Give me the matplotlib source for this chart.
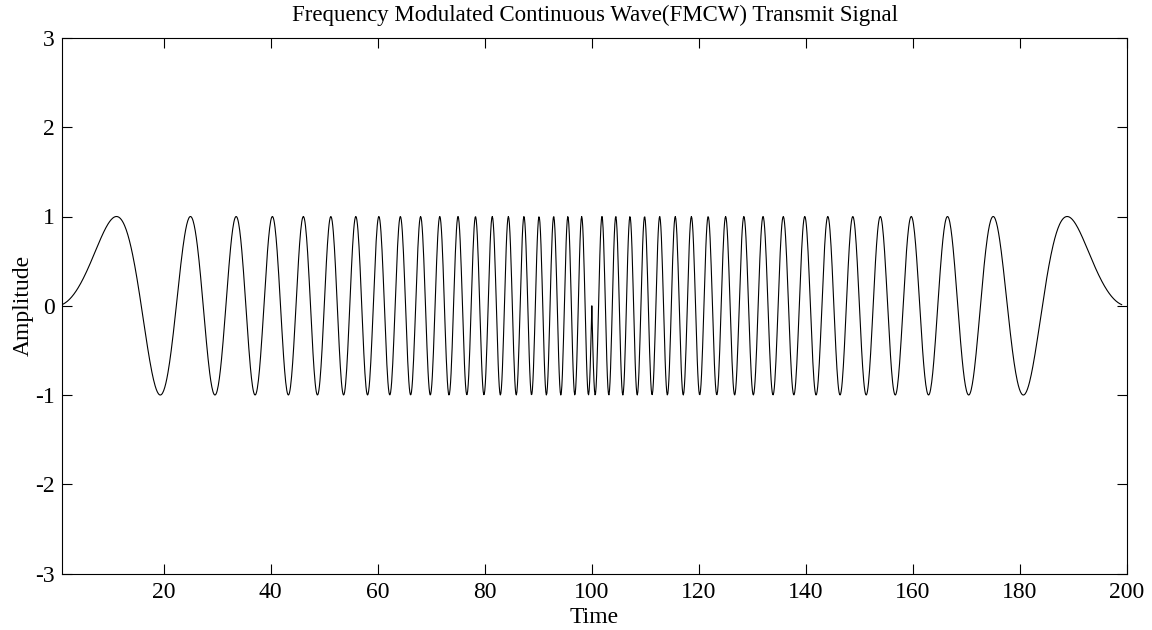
import numpy as np
import matplotlib
matplotlib.use("Agg")
import matplotlib.pyplot as plt

plt.rcParams['font.family'] = ['Liberation Serif', 'DejaVu Serif']
plt.rcParams['axes.unicode_minus'] = False

# chirp parameters (peaks at ~11.2, 25, 33.5 ... 98.1)
t_start = 1.0
t_mid = 100.0
t_end = 200.0
chirp_rate = 0.002      # f = chirp_rate * t, phase = 2*pi*f*t
dt = 0.1

x_ticks = [20, 40, 60, 80, 100, 120, 140, 160, 180, 200]
y_ticks = [-3, -2, -1, 0, 1, 2, 3]

title = "Frequency Modulated Continuous Wave(FMCW) Transmit Signal"
xlab = "Time"
ylab = "Amplitude"

# up chirp then mirrored down chirp
t_up = np.arange(t_start, t_mid + dt / 2, dt)
y_up = np.sin(2 * np.pi * chirp_rate * t_up * t_up)
t_dn = t_end - t_up[::-1]
y_dn = y_up[::-1]
t = np.concatenate([t_up, t_dn])
y = np.concatenate([y_up, y_dn])

fig = plt.figure(figsize=(11.52, 6.3), dpi=100)
ax = fig.add_axes([62 / 1152, 1 - 573.5 / 630, (1127 - 62) / 1152, (573.5 - 38) / 630])
ax.plot(t, y, color='black', linewidth=0.8)

ax.set_xlim(t_start, t_end)
ax.set_ylim(-3, 3)
ax.set_xticks(x_ticks)
ax.set_yticks(y_ticks)
ax.tick_params(direction='in', length=7, width=0.8, top=True, right=True,
               labelsize=17, pad=5)
ax.tick_params(axis='x', pad=6)
for s in ax.spines.values():
    s.set_linewidth(0.8)

ax.set_title(title, fontsize=16.5, pad=12)
ax.set_xlabel(xlab, fontsize=17, labelpad=3)
ax.set_ylabel(ylab, fontsize=17, labelpad=1)

fig.savefig("out.png", dpi=100)
